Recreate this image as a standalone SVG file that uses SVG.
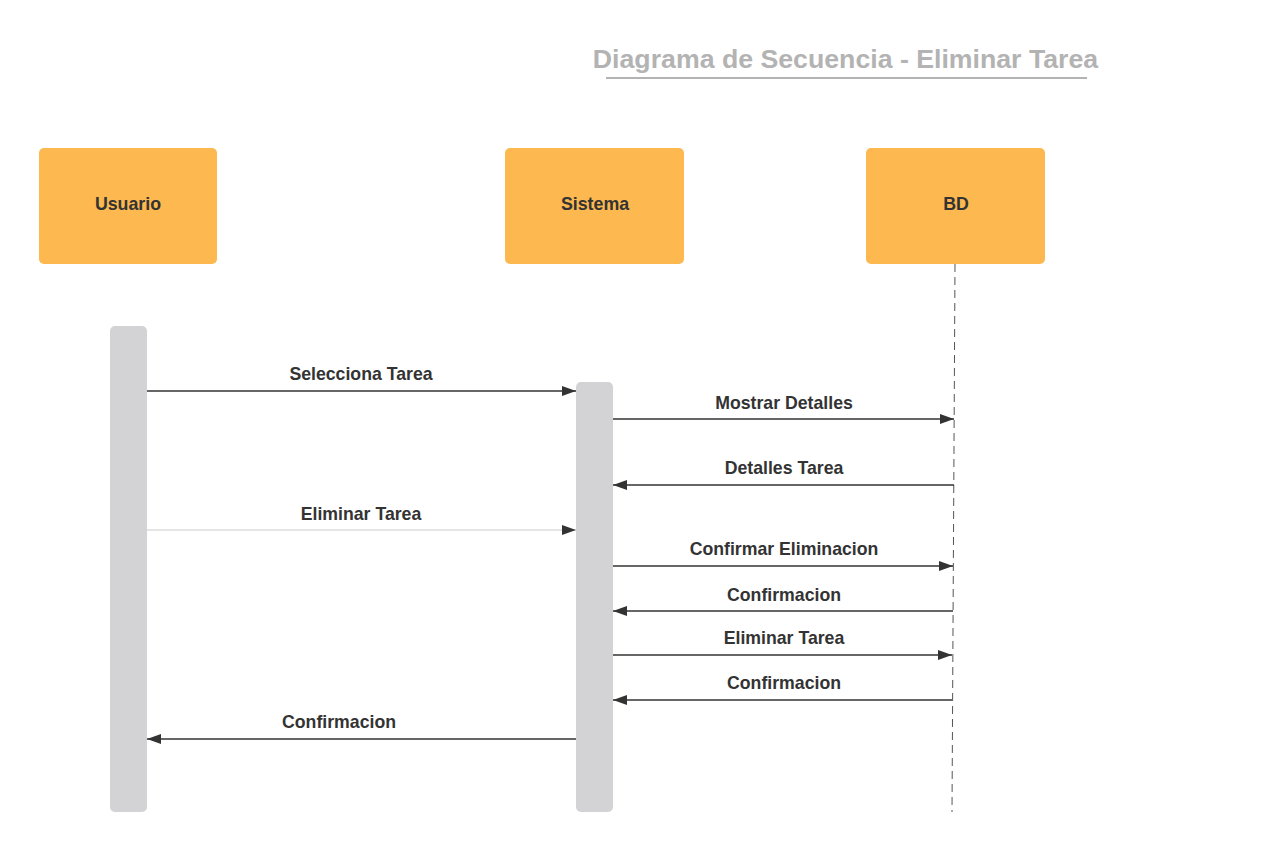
<svg xmlns="http://www.w3.org/2000/svg" width="1280" height="850" viewBox="0 0 1280 850">
<defs>
<style>
.box{fill:#FDB94F;}
.bar{fill:#D3D3D5;}
.nl{font-family:"Liberation Sans",Arial,sans-serif;font-weight:bold;font-size:17.8px;fill:#333333;text-anchor:middle;}
.ml{font-family:"Liberation Sans",Arial,sans-serif;font-weight:bold;font-size:17.7px;fill:#333333;text-anchor:middle;}
.msg{stroke:#333333;stroke-width:1.5;fill:none;}
.title{font-family:"Liberation Sans",Arial,sans-serif;font-weight:bold;font-size:26.7px;fill:#B3B3B3;text-anchor:middle;}
</style>
<marker id="ah" viewBox="0 0 14 10" refX="14" refY="5" markerWidth="14" markerHeight="10" markerUnits="userSpaceOnUse" orient="auto">
<path d="M0,0 L14,5 L0,10 Z" fill="#333333"/>
</marker>
</defs>
<rect width="1280" height="850" fill="#FFFFFF"/>
<g id="title">
<text class="title" x="845.5" y="68">Diagrama de Secuencia - Eliminar Tarea</text>
<line x1="606" y1="78" x2="1087" y2="78" stroke="#B3B3B3" stroke-width="2"/>
</g>
<g id="usuario">
<rect class="box" x="39" y="148" width="178" height="116" rx="5"/>
<text class="nl" x="128" y="209.5">Usuario</text>
<rect class="bar" x="110" y="326" width="37" height="486" rx="5"/>
</g>
<g id="sistema">
<rect class="box" x="505" y="148" width="179" height="116" rx="5"/>
<text class="nl" x="595" y="209.5">Sistema</text>
<rect class="bar" x="576" y="382" width="37" height="430" rx="5"/>
</g>
<g id="bd">
<rect class="box" x="866" y="148" width="179" height="116" rx="5"/>
<text class="nl" x="956" y="209.5">BD</text>
<line x1="955" y1="264" x2="952" y2="812" stroke="#555555" stroke-width="1" stroke-dasharray="8,5"/>
</g>
<g id="connectors">
<line class="msg" x1="147" y1="391" x2="576" y2="391" marker-end="url(#ah)"/>
<text class="ml" x="361" y="380">Selecciona Tarea</text>
<line class="msg" x1="613" y1="419" x2="954" y2="419" marker-end="url(#ah)"/>
<text class="ml" x="784" y="409">Mostrar Detalles</text>
<line class="msg" x1="954" y1="485" x2="613" y2="485" marker-end="url(#ah)"/>
<text class="ml" x="784" y="474">Detalles Tarea</text>
<line x1="147" y1="530" x2="576" y2="530" stroke="#CCCCCC" stroke-width="1.2" marker-end="url(#ah)"/>
<text class="ml" x="361" y="520">Eliminar Tarea</text>
<line class="msg" x1="613" y1="566" x2="953" y2="566" stroke-width="2" marker-end="url(#ah)"/>
<text class="ml" x="784" y="555">Confirmar Eliminacion</text>
<line class="msg" x1="953" y1="611" x2="613" y2="611" marker-end="url(#ah)"/>
<text class="ml" x="784" y="601">Confirmacion</text>
<line class="msg" x1="613" y1="655" x2="952" y2="655" stroke-width="1.2" marker-end="url(#ah)"/>
<text class="ml" x="784" y="644">Eliminar Tarea</text>
<line class="msg" x1="952" y1="700" x2="613" y2="700" marker-end="url(#ah)"/>
<text class="ml" x="784" y="689">Confirmacion</text>
<line class="msg" x1="576" y1="739" x2="147" y2="739" marker-end="url(#ah)"/>
<text class="ml" x="339" y="728">Confirmacion</text>
</g>
</svg>
